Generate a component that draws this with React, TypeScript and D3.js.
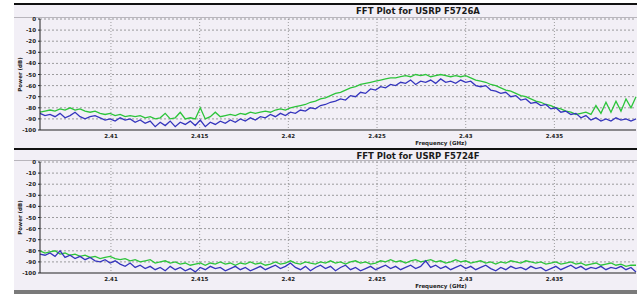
import React from 'react';
import * as d3 from 'd3';

// FFT bins, evenly spaced between these frequencies (GHz)
const freqStart = 2.406;
const freqEnd = 2.4396;

const xTicks = [2.41, 2.415, 2.42, 2.425, 2.43, 2.435];
const yTicks = [0, -10, -20, -30, -40, -50, -60, -70, -80, -90, -100];

const greenA = [
  -84, -83, -82, -83, -81, -82, -80, -82, -81, -83, -84, -83, -85, -86, -85, -87, -86, -88, -87, -88,
  -87, -89, -88, -90, -89, -85, -90, -89, -84, -90, -89, -90, -80, -90, -88, -84, -88, -87, -86, -87,
  -85, -86, -84, -85, -84, -83, -84, -82, -81, -82, -80, -79, -78, -77, -75, -74, -72, -71, -69, -67,
  -66, -64, -62, -61, -59, -58, -57, -56, -55, -54, -53, -53, -52, -51, -52, -50, -51, -50, -52, -51,
  -50, -51, -52, -51, -52, -51, -53, -55, -56, -57, -59, -60, -62, -64, -65, -67, -69, -70, -72, -74,
  -75, -77, -78, -80, -81, -83, -84, -86, -85, -84, -86, -78, -85, -75, -84, -74, -83, -72, -80, -70,
];
const blueA = [
  -85, -87, -86, -88, -85, -89, -87, -84, -88, -90, -88, -87, -89, -91, -90, -92, -89, -91, -90, -93,
  -91, -94, -92, -97, -93, -96, -92, -97, -93, -95, -92, -96, -91, -97, -93, -95, -92, -94, -91, -93,
  -90, -92, -89, -91, -88, -89, -86, -88, -85, -87, -84, -85, -82, -83, -80, -81, -78, -77, -75, -74,
  -72, -73, -69, -70, -66, -67, -63, -64, -61, -62, -59, -60, -57, -58, -55, -59, -56, -57, -55, -58,
  -54, -57, -56, -58, -55, -57, -56, -60, -61, -60, -64, -65, -67, -66, -70, -69, -73, -72, -76, -75,
  -78, -77, -81, -80, -84, -83, -86, -85, -89, -87, -91, -89, -92, -90, -92, -89, -91, -90, -92, -90,
];
const greenF = [
  -80, -82, -81, -80, -83, -82, -84, -83, -85, -84, -86, -85, -87, -86, -85, -87, -88, -87, -89, -88,
  -90, -89, -88, -91, -90, -89, -91, -90, -92, -91, -93, -92, -91, -93, -91, -92, -90, -92, -91, -93,
  -91, -92, -90, -92, -91, -93, -92, -90, -92, -91, -89, -91, -92, -90, -91, -92, -90, -91, -89, -91,
  -90, -92, -90, -89, -91, -90, -92, -91, -89, -90, -88, -90, -89, -91, -89, -88, -90, -89, -88, -90,
  -89, -91, -90, -88, -90, -89, -91, -90, -89, -91, -90, -92, -90, -91, -89, -90, -91, -89, -90, -91,
  -90, -92, -91, -90, -92, -91, -90, -92, -91, -93, -92, -91, -93, -92, -91, -93, -92, -94, -93, -93,
];
const blueF = [
  -83, -84, -82, -85, -80, -86, -84, -87, -85, -88, -86, -89, -90, -88, -91, -89, -92, -94, -91, -95,
  -93, -96, -94, -97, -95, -98, -94, -97, -95, -98, -96, -99, -95, -97, -94, -96, -95, -98, -96, -94,
  -97, -95, -98, -96, -94, -97, -95, -93, -96, -94, -91, -95, -97, -94, -98, -95, -93, -96, -94, -98,
  -95, -93, -97, -95, -98, -96, -94, -97, -95, -93, -96, -94, -97, -95, -93, -96, -94, -89, -95, -93,
  -96, -94, -97, -95, -93, -96, -94, -97, -95, -93, -96, -98, -95, -97, -94, -96, -95, -97, -94, -96,
  -95, -98, -96, -94, -97, -95, -93, -96, -94, -97, -95, -96, -94, -97, -95, -96, -94, -97, -95, -99,
];

const panels = [
  { title: 'FFT Plot for USRP F5726A', green: greenA, blue: blueA, top: 4, plotTop: 19, plotBottom: 130 },
  { title: 'FFT Plot for USRP F5724F', green: greenF, blue: blueF, top: 149, plotTop: 162, plotBottom: 273 },
];

const font = 'DejaVu Sans, sans-serif';

function Panel({ p }: { p: typeof panels[0] }) {
  const x = d3.scaleLinear().domain([freqStart, freqEnd]).range([40, 636]);
  const y = d3.scaleLinear().domain([-100, 0]).range([p.plotBottom, p.plotTop]);
  const line = (vals: number[]) => {
    const step = (freqEnd - freqStart) / (vals.length - 1);
    return d3.line<number>().x((_, i) => x(freqStart + i * step)).y((d) => y(d))(vals) || '';
  };
  return (
    <g>
      <rect x={14} y={p.top} width={623} height={p.plotBottom - p.top + 18} fill="#f2eff6" />
      <line x1={14} x2={637} y1={p.top} y2={p.top} stroke="#111" strokeWidth={2} />
      <text x={418} y={p.top + 10} textAnchor="middle" fontFamily={font} fontWeight="bold" fontSize={8.5} fill="#1a1a1a">
        {p.title}
      </text>
      <line x1={14} x2={637} y1={p.plotTop - 1.5} y2={p.plotTop - 1.5} stroke="#b8b5bc" strokeWidth={1} />
      {yTicks.slice(0, -1).map((t) => (
        <line key={t} x1={40} x2={636} y1={y(t)} y2={y(t)} stroke="#777" strokeWidth={0.7} strokeDasharray="2,2" />
      ))}
      {xTicks.map((t) => (
        <line key={t} x1={x(t)} x2={x(t)} y1={p.plotTop} y2={p.plotBottom} stroke="#888" strokeWidth={0.8} strokeDasharray="1,2" />
      ))}
      <path d={line(p.green)} fill="none" stroke="#2cc43a" strokeWidth={1.3} />
      <path d={line(p.blue)} fill="none" stroke="#3535bd" strokeWidth={1.3} />
      <line x1={40} x2={40} y1={p.plotTop} y2={p.plotBottom} stroke="#222" strokeWidth={1} />
      <line x1={40} x2={636} y1={p.plotBottom} y2={p.plotBottom} stroke="#222" strokeWidth={1} />
      {yTicks.map((t) => (
        <g key={t}>
          <line x1={38} x2={40} y1={y(t)} y2={y(t)} stroke="#222" />
          <text x={36} y={y(t) + 2} textAnchor="end" fontFamily={font} fontWeight="bold" fontSize={5.5} fill="#222">
            {t}
          </text>
        </g>
      ))}
      {xTicks.map((t) => (
        <text key={t} x={x(t)} y={p.plotBottom + 8} textAnchor="middle" fontFamily={font} fontWeight="bold" fontSize={5.5} fill="#222">
          {t}
        </text>
      ))}
      <text x={441} y={p.plotBottom + 15} textAnchor="middle" fontFamily={font} fontWeight="bold" fontSize={5.5} fill="#222">
        Frequency (GHz)
      </text>
      <text
        transform={`translate(22,${(p.plotTop + p.plotBottom) / 2}) rotate(-90)`}
        textAnchor="middle"
        fontFamily={font}
        fontWeight="bold"
        fontSize={5.5}
        fill="#222"
      >
        Power (dB)
      </text>
    </g>
  );
}

export default function App() {
  return (
    <svg width={637} height={294} style={{ position: 'fixed', left: 0, top: 0, background: '#fff' }}>
      {panels.map((p) => (
        <Panel key={p.title} p={p} />
      ))}
      <rect x={14} y={290} width={623} height={4} fill="#7a7a7a" />
    </svg>
  );
}
